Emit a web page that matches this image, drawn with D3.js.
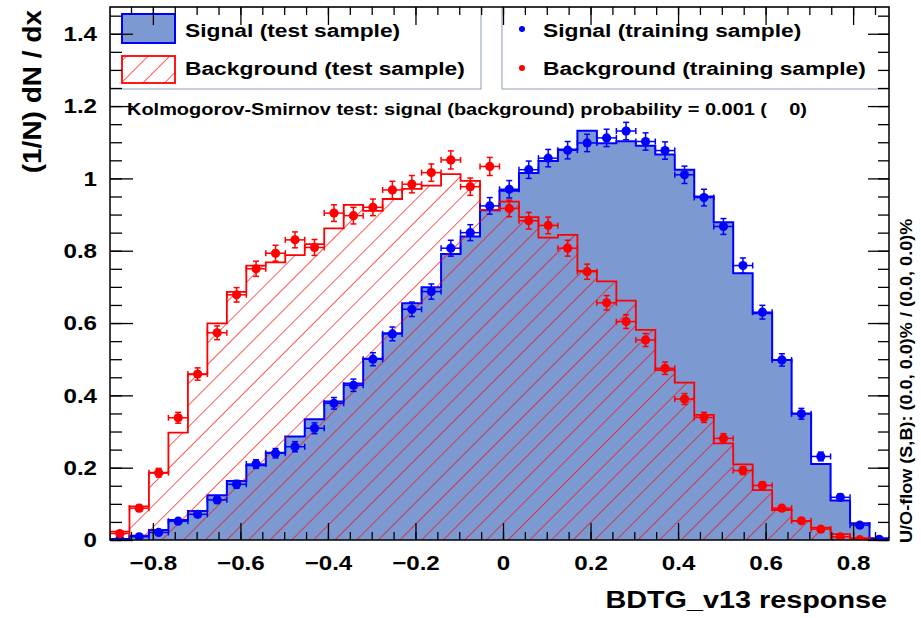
<!DOCTYPE html>
<html>
<head>
<meta charset="utf-8">
<script src="https://cdn.jsdelivr.net/npm/d3@7"></script>
<style>
  body { margin: 0; background: #fff; }
  svg text { font-family: "Liberation Sans", Arial, sans-serif; font-weight: bold; fill: #000; }
</style>
</head>
<body>
<div id="chart"></div>
<script>
// Histogram binning (40 bins of the BDTG response)
var nBins = 40;
var binLo = -0.898;
var binHi = 0.882;

// Signal (test sample) - filled histogram
var sigTest = [0.003, 0.012, 0.028, 0.055, 0.080, 0.124, 0.163, 0.207, 0.241, 0.286,
  0.334, 0.383, 0.433, 0.501, 0.572, 0.655, 0.699, 0.791, 0.839, 0.912,
  0.966, 1.015, 1.048, 1.080, 1.132, 1.097, 1.103, 1.090, 1.066, 1.024,
  0.950, 0.879, 0.738, 0.627, 0.498, 0.350, 0.210, 0.109, 0.046, 0.005];

// Background (test sample) - hatched histogram
var bkgTest = [0.023, 0.093, 0.186, 0.297, 0.458, 0.599, 0.686, 0.759, 0.768, 0.788,
  0.818, 0.862, 0.927, 0.910, 0.943, 0.971, 0.980, 1.012, 0.993, 0.913,
  0.936, 0.893, 0.836, 0.844, 0.744, 0.715, 0.662, 0.581, 0.470, 0.435,
  0.346, 0.267, 0.209, 0.138, 0.083, 0.053, 0.034, 0.016, 0.005, 0.0];

// Signal (training sample) - points
var sigTrain = [0.002, 0.009, 0.021, 0.052, 0.071, 0.111, 0.154, 0.210, 0.240, 0.258,
  0.309, 0.378, 0.428, 0.500, 0.570, 0.638, 0.687, 0.807, 0.850, 0.924,
  0.970, 1.024, 1.056, 1.078, 1.098, 1.112, 1.131, 1.102, 1.077, 1.010,
  0.947, 0.867, 0.759, 0.630, 0.498, 0.349, 0.231, 0.118, 0.041, 0.002];
var sigTrainErr = [0.003, 0.004, 0.005, 0.007, 0.008, 0.010, 0.011, 0.012, 0.013, 0.014,
  0.015, 0.016, 0.017, 0.018, 0.019, 0.020, 0.021, 0.022, 0.022, 0.023,
  0.024, 0.024, 0.024, 0.024, 0.024, 0.024, 0.024, 0.024, 0.024, 0.024,
  0.023, 0.022, 0.021, 0.019, 0.017, 0.015, 0.012, 0.009, 0.005, 0.003];

// Background (training sample) - points
var bkgTrain = [0.018, 0.088, 0.186, 0.338, 0.459, 0.573, 0.678, 0.750, 0.793, 0.830,
  0.809, 0.904, 0.897, 0.920, 0.968, 0.984, 1.016, 1.051, 0.977, 1.033,
  0.917, 0.883, 0.870, 0.807, 0.742, 0.656, 0.604, 0.553, 0.475, 0.390,
  0.339, 0.281, 0.192, 0.151, 0.088, 0.053, 0.030, 0.009, 0.001, 0.0];
var bkgTrainErr = [0.005, 0.009, 0.012, 0.015, 0.017, 0.019, 0.020, 0.021, 0.022, 0.022,
  0.022, 0.023, 0.023, 0.023, 0.024, 0.024, 0.024, 0.025, 0.024, 0.025,
  0.023, 0.023, 0.023, 0.022, 0.021, 0.020, 0.019, 0.018, 0.017, 0.015,
  0.014, 0.013, 0.011, 0.010, 0.007, 0.006, 0.004, 0.003, 0.001, 0.0];

// Axis ticks / labels
var xTicks = [-0.8, -0.6, -0.4, -0.2, 0, 0.2, 0.4, 0.6, 0.8];
var yTicks = [0, 0.2, 0.4, 0.6, 0.8, 1, 1.2, 1.4];
var xTitle = "BDTG_v13 response";
var yTitle = "(1/N) dN / dx";
var legendLeft = ["Signal (test sample)", "Background (test sample)"];
var legendRight = ["Signal (training sample)", "Background (training sample)"];
var ksText = "Kolmogorov-Smirnov test: signal (background) probability = 0.001 (    0)";
var flowText = "U/O-flow (S,B): (0.0, 0.0)% / (0.0, 0.0)%";

var sigFill = "#7d99d1", sigLine = "#0000ff", bkgLine = "#ff0000";

var svgWidth = 921;
var svgHeight = 618;
var margin = { top: 7, right: 32, bottom: 78, left: 110 };
var width = svgWidth - margin.left - margin.right;
var height = svgHeight - margin.top - margin.bottom;

var svg = d3.select("#chart")
  .append("svg")
  .attr("width", svgWidth)
  .attr("height", svgHeight);

// hatch pattern for background
// ==============================
var defs = svg.append("defs");
defs.append("pattern")
  .attr("id", "hatch")
  .attr("patternUnits", "userSpaceOnUse")
  .attr("width", 15.3)
  .attr("height", 15.3)
  .attr("patternTransform", "rotate(45)")
  .append("line")
  .attr("x1", 0).attr("y1", 0).attr("x2", 0).attr("y2", 15.3)
  .attr("stroke", bkgLine)
  .attr("stroke-opacity", 0.85)
  .attr("stroke-width", 1.5);

defs.append("clipPath").attr("id", "plotclip")
  .append("rect").attr("width", width).attr("height", height);

var chartGroup = svg.append("g")
  .attr("transform", `translate(${margin.left}, ${margin.top})`);

// ROOT's Helvetica comes out wider than Liberation Sans, so stretch text horizontally
function addText(x0, y0, str, size, sx, anchor, rot) {
  return chartGroup.append("text")
    .attr("transform", `translate(${x0},${y0}) rotate(${rot || 0}) scale(${sx},1)`)
    .attr("text-anchor", anchor || "start")
    .attr("font-size", size + "px")
    .style("white-space", "pre")
    .text(str);
}

// scales
// ==============================
var x = d3.scaleLinear().domain([binLo, binHi]).range([0, width]);
var y = d3.scaleLinear().domain([0, 1.474]).range([height, 0]);

var binW = (binHi - binLo) / nBins;
var binEdges = d3.range(nBins + 1).map(i => binLo + i * binW);
var binCenters = d3.range(nBins).map(i => binLo + (i + 0.5) * binW);

function stepPoints(vals) {
  var pts = [[binEdges[0], 0]];
  vals.forEach(function(v, i) {
    pts.push([binEdges[i], v]);
    pts.push([binEdges[i + 1], v]);
  });
  pts.push([binEdges[nBins], 0]);
  return pts;
}
var stepLine = d3.line().x(d => x(d[0])).y(d => y(d[1]));

var plot = chartGroup.append("g").attr("clip-path", "url(#plotclip)");

// signal test histogram
plot.append("path")
  .attr("d", stepLine(stepPoints(sigTest)))
  .attr("fill", sigFill)
  .attr("stroke", sigLine)
  .attr("stroke-width", 2);

// background test histogram
plot.append("path")
  .attr("d", stepLine(stepPoints(bkgTest)))
  .attr("fill", "url(#hatch)")
  .attr("stroke", bkgLine)
  .attr("stroke-width", 1.8);

// training points with error bars
// ==============================
function drawPoints(vals, errs, color) {
  var g = plot.append("g");
  vals.forEach(function(v, i) {
    if (v <= 0) return;
    var cx = x(binCenters[i]), cy = y(v);
    var x0 = x(binEdges[i]), x1 = x(binEdges[i + 1]);
    var ylo = y(v - errs[i]), yhi = y(v + errs[i]);
    var segs = [
      [x0, cy, x1, cy],
      [x0, cy - 3, x0, cy + 3],
      [x1, cy - 3, x1, cy + 3],
      [cx, ylo, cx, yhi],
      [cx - 3, ylo, cx + 3, ylo],
      [cx - 3, yhi, cx + 3, yhi]
    ];
    segs.forEach(function(s) {
      g.append("line")
        .attr("x1", s[0]).attr("y1", s[1]).attr("x2", s[2]).attr("y2", s[3])
        .attr("stroke", color).attr("stroke-width", 1.5);
    });
    g.append("circle").attr("cx", cx).attr("cy", cy).attr("r", 4.6).attr("fill", color);
  });
}
drawPoints(sigTrain, sigTrainErr, sigLine);
drawPoints(bkgTrain, bkgTrainErr, bkgLine);

// legends
// ==============================
var legBorder = "#8c9cb8";
chartGroup.append("rect")
  .attr("x", 0).attr("y", 0).attr("width", 371).attr("height", 82)
  .attr("fill", "#fff").attr("stroke", legBorder).attr("stroke-width", 1);
chartGroup.append("rect")
  .attr("x", 392).attr("y", 0).attr("width", width - 392).attr("height", 82)
  .attr("fill", "#fff").attr("stroke", legBorder).attr("stroke-width", 1);

chartGroup.append("rect")
  .attr("x", 12).attr("y", 7).attr("width", 53).attr("height", 29)
  .attr("fill", sigFill).attr("stroke", sigLine).attr("stroke-width", 2);
chartGroup.append("rect")
  .attr("x", 12).attr("y", 49).attr("width", 53).attr("height", 27)
  .attr("fill", "url(#hatch)").attr("stroke", bkgLine).attr("stroke-width", 1.8);

legendLeft.forEach(function(d, i) {
  addText(75, 30 + i * 38, d, 19, 1.2);
});

chartGroup.selectAll(".legDot")
  .data([sigLine, bkgLine])
  .enter()
  .append("circle")
  .attr("cx", 412)
  .attr("cy", (d, i) => 22 + i * 39)
  .attr("r", 3)
  .attr("fill", d => d);

legendRight.forEach(function(d, i) {
  addText(433, 30 + i * 38, d, 19, 1.2);
});

addText(17, 108, ksText, 16.5, 1.21);

// axes
// ==============================
var xMinor = d3.range(-17, 18).map(k => k * 0.05);
var yMinor = d3.range(0, 30).map(k => k * 0.05);
var fmt = d => (d < 0 ? "\u2212" : "") + Math.abs(d);

function styleAxis(g) {
  g.select(".domain").remove();
  g.selectAll("line").attr("stroke", "#000").attr("stroke-width", 1.3);
}
function stretchLabels(sel, sx) {
  sel.each(function() {
    var t = d3.select(this);
    var tx = +t.attr("x") || 0;
    t.attr("transform", `translate(${tx},0) scale(${sx},1) translate(${-tx},0)`);
  });
}

chartGroup.append("g").attr("transform", `translate(0, ${height})`)
  .call(d3.axisBottom(x).tickValues(xMinor).tickSize(-8).tickFormat(""))
  .call(styleAxis);
chartGroup.append("g").attr("transform", `translate(0, ${height})`)
  .call(d3.axisBottom(x).tickValues(xTicks).tickSize(-17).tickPadding(15).tickFormat(fmt))
  .call(styleAxis)
  .selectAll("text").attr("font-size", "21px").attr("font-family", null)
  .call(stretchLabels, 1.15);

chartGroup.append("g")
  .call(d3.axisTop(x).tickValues(xMinor).tickSize(-8).tickFormat(""))
  .call(styleAxis);
chartGroup.append("g")
  .call(d3.axisTop(x).tickValues(xTicks).tickSize(-18).tickFormat(""))
  .call(styleAxis);

chartGroup.append("g")
  .call(d3.axisLeft(y).tickValues(yMinor).tickSize(-12).tickFormat(""))
  .call(styleAxis);
chartGroup.append("g")
  .call(d3.axisLeft(y).tickValues(yTicks).tickSize(-23).tickPadding(13).tickFormat(fmt))
  .call(styleAxis)
  .selectAll("text").attr("font-size", "21px").attr("font-family", null)
  .call(stretchLabels, 1.15);

chartGroup.append("g").attr("transform", `translate(${width}, 0)`)
  .call(d3.axisRight(y).tickValues(yMinor).tickSize(-11).tickFormat(""))
  .call(styleAxis);
chartGroup.append("g").attr("transform", `translate(${width}, 0)`)
  .call(d3.axisRight(y).tickValues(yTicks).tickSize(-21).tickFormat(""))
  .call(styleAxis);

// frame
chartGroup.append("rect")
  .attr("width", width).attr("height", height)
  .attr("fill", "none").attr("stroke", "#000").attr("stroke-width", 1.5);

// axis titles
// ==============================
addText(width - 2, height + 68, xTitle, 24, 1.2, "end");
addText(41 - margin.left, 3, yTitle, 25, 1.12, "end", -90);
addText(width + 23, height + 3, flowText, 16, 1.13, "start", -90);
</script>
</body>
</html>
